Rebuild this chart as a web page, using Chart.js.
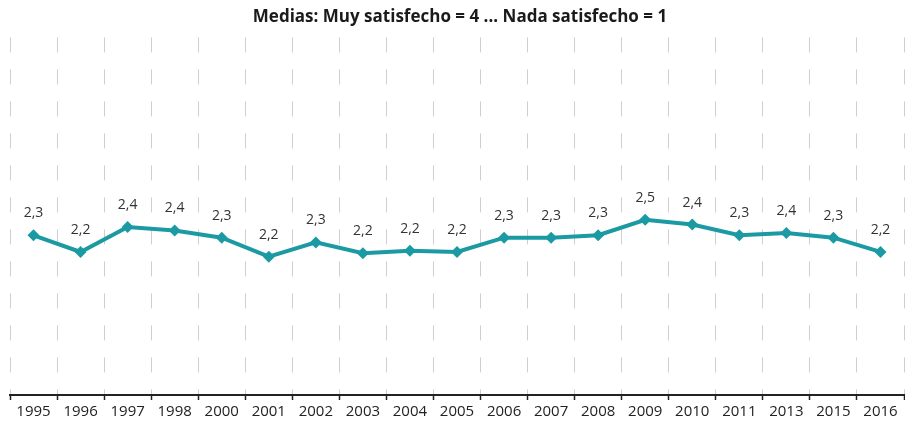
<!DOCTYPE html>
<html>
<head>
<meta charset="utf-8">
<script src="https://cdn.jsdelivr.net/npm/chart.js@4/dist/chart.umd.min.js"></script>
<style>
  html, body { margin: 0; padding: 0; background: #fff; overflow: hidden; }
  #wrap { position: relative; width: 910px; height: 423px; }
</style>
</head>
<body>
<div id="wrap"><canvas id="chart"></canvas></div>
<script>
const years = ["1995", "1996", "1997", "1998", "2000", "2001", "2002", "2003", "2004", "2005",
  "2006", "2007", "2008", "2009", "2010", "2011", "2013", "2015", "2016"];
const means = [2.34, 2.20, 2.41, 2.38, 2.32, 2.16, 2.28, 2.19, 2.21, 2.20,
  2.32, 2.32, 2.34, 2.47, 2.43, 2.34, 2.36, 2.32, 2.20];
const titleText = "Medias: Muy satisfecho = 4 ... Nada satisfecho = 1";

const lineColor = "#1b9aa4";

// simple value labels above each point, "2,3" style
const valueLabels = {
  id: "valueLabels",
  afterDatasetsDraw(chart) {
    const { ctx } = chart;
    const meta = chart.getDatasetMeta(0);
    ctx.save();
    ctx.font = "14px 'Open Sans'";
    ctx.fillStyle = "#333";
    ctx.textAlign = "center";
    ctx.textBaseline = "middle";
    meta.data.forEach((pt, i) => {
      const txt = means[i].toFixed(1).replace(".", ",");
      ctx.fillText(txt, pt.x, pt.y - 22);
    });
    ctx.restore();
  }
};

document.addEventListener("DOMContentLoaded", () => {
  new Chart(document.getElementById("chart"), {
    type: "line",
    data: {
      labels: years,
      datasets: [{
        data: means,
        borderColor: lineColor,
        backgroundColor: lineColor,
        borderWidth: 4,
        pointStyle: "rectRot",
        pointRadius: 6,
        pointBorderWidth: 0,
        tension: 0
      }]
    },
    options: {
      responsive: true,
      maintainAspectRatio: false,
      animation: false,
      layout: { padding: { left: 10, right: 0, top: 0, bottom: 0 } },
      scales: {
        x: {
          offset: true,
          grid: {
            offset: true,
            color: "#cfcfcf",
            lineWidth: 1,
            tickColor: "#222",
            tickBorderDash: [],
            tickLength: 5,
            tickWidth: 1.5
          },
          border: { color: "#222", width: 2, dash: [15, 17] },
          ticks: {
            color: "#222",
            padding: 4,
            maxRotation: 0,
            autoSkip: false,
            font: { family: "'Open Sans'", size: 15, lineHeight: 1.0 }
          }
        },
        y: {
          display: false,
          min: 1,
          max: 4
        }
      },
      plugins: {
        legend: { display: false },
        tooltip: { enabled: false },
        title: {
          display: true,
          text: titleText,
          color: "#1a1a1a",
          padding: { top: 7, bottom: 10 },
          font: { family: "'Open Sans'", size: 17, weight: "bold", lineHeight: 1.2 }
        }
      }
    },
    plugins: [valueLabels]
  });
});
</script>
</body>
</html>
